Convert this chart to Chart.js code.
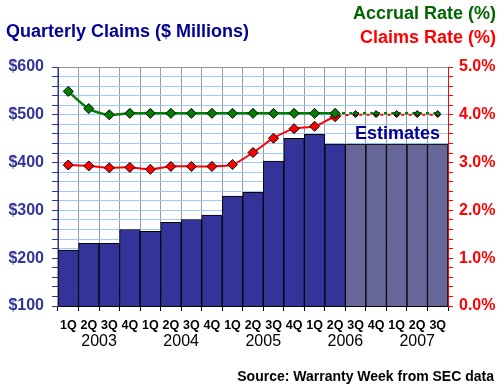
<!DOCTYPE html>
<html><head><meta charset="utf-8">
<script src="https://cdn.jsdelivr.net/npm/chart.js@4.4.0/dist/chart.umd.min.js"></script>
<style>
html,body{margin:0;padding:0;background:#fff;}
#wrap{position:relative;width:500px;height:388px;font-family:'Liberation Sans',Arial,sans-serif;}
canvas{position:absolute;left:0;top:0;}
.t{position:absolute;font-weight:bold;white-space:nowrap;line-height:1;}
</style></head><body>
<div id="wrap">
<canvas id="c" width="500" height="388"></canvas>
<div class="t" style="left:6px;top:22px;font-size:18px;color:#000099">Quarterly Claims ($ Millions)</div>
<div class="t" style="right:4px;top:4px;font-size:18px;color:#006600">Accrual Rate (%)</div>
<div class="t" style="right:4px;top:28px;font-size:18px;color:#ff0000">Claims Rate (%)</div>
<div class="t" style="left:355px;top:124px;font-size:18px;color:#000099">Estimates</div>
<div class="t" style="right:6px;top:369px;font-size:14px;color:#000">Source: Warranty Week from SEC data</div>
</div>
<script>
const quarters = ['1Q','2Q','3Q','4Q','1Q','2Q','3Q','4Q','1Q','2Q','3Q','4Q','1Q','2Q','3Q','4Q','1Q','2Q','3Q'];
const years = ['2003','2004','2005','2006','2007'];
const yearCenters = [1.5, 5.5, 9.5, 13.5, 17];
const claims = [217,231,231,260,256,275,281,290,330,338,403,451,459,439,439,439,439,439,439];
const accrualRate = [4.49,4.13,4.00,4.03,4.03,4.03,4.03,4.03,4.03,4.03,4.03,4.03,4.03,4.03,4.03,4.03,4.03,4.03,4.03];
const claimsRate = [2.95,2.93,2.89,2.90,2.86,2.92,2.92,2.92,2.96,3.21,3.51,3.71,3.76,3.96,4.00,4.00,4.00,4.00,4.00];
const firstEstimate = 14;

const FONT = "'Liberation Sans', Arial, sans-serif";
const barColors = claims.map((v,i)=> i >= firstEstimate ? '#666699' : '#333399');
const dashSeg = (off) => ({
  borderDash: ctx => ctx.p1DataIndex >= firstEstimate ? [3,4] : undefined,
  borderDashOffset: ctx => ctx.p1DataIndex >= firstEstimate ? off : 0
});
const ptRadius = ctx => ctx.dataIndex >= firstEstimate ? 2.8 : 5;

new Chart(document.getElementById('c'), {
  data: {
    labels: quarters,
    datasets: [
      { type:'line', label:'Accrual Rate (%)', data: accrualRate, yAxisID:'y2', order:1,
        borderColor:'#008000', backgroundColor:'#008000', borderWidth:2.5, tension:0.3,
        pointStyle:'rectRot', pointRadius: ptRadius, pointBorderColor:'#000', pointBorderWidth:1,
        pointBackgroundColor:'#008000', segment: dashSeg(0) },
      { type:'line', label:'Claims Rate (%)', data: claimsRate, yAxisID:'y2', order:2,
        borderColor:'#ff0000', backgroundColor:'#ff0000', borderWidth:2, tension:0.3,
        pointStyle:'rectRot', pointRadius: ptRadius, pointBorderColor:'#000', pointBorderWidth:1,
        pointBackgroundColor:'#ff0000', segment: dashSeg(3.5) },
      { type:'bar', label:'Quarterly Claims', data: claims, yAxisID:'y', order:3,
        backgroundColor: barColors, borderColor:'#000', borderWidth:1,
        barPercentage:1, categoryPercentage:1 }
    ]
  },
  options: {
    responsive:false, animation:false,
    layout:{ padding:{ top:67, bottom:30, left:0, right:0 } },
    plugins:{ legend:{display:false}, tooltip:{enabled:false}, title:{display:false} },
    scales:{
      x:{ type:'category', position:'bottom', offset:true,
        grid:{ offset:true, color:'#999999', tickColor:'#000', tickLength:5, lineWidth:1 },
        border:{ color:'#000', width:1 },
        ticks:{ color:'#000', font:{family:FONT, size:12.5, weight:'bold'}, padding:7, maxRotation:0, autoSkip:false },
        afterFit: s => { s.height = 26; } },
      xYear:{ type:'linear', position:'bottom', min:-0.5, max:18.5,
        grid:{ display:false, drawTicks:false, tickLength:0 }, border:{ display:false },
        afterBuildTicks: s => { s.ticks = yearCenters.map(v => ({value:v})); },
        ticks:{ autoSkip:false, maxRotation:0, color:'#000', font:{family:FONT, size:16}, padding:0,
          callback: v => years[yearCenters.indexOf(v)] },
        afterFit: s => { s.height = 26; } },
      y:{ position:'left', min:100, max:600,
        ticks:{ stepSize:20, autoSkip:false, color:'#333399', font:{family:FONT, size:16, weight:'bold'}, padding:8,
          callback: v => (Math.round(v) % 100 === 0) ? '$' + Math.round(v) : '' },
        grid:{ color: ctx => (ctx.tick && ctx.tick.value === 600) ? '#999999' : '#99ccff', tickColor:'#333399', tickLength:6 },
        border:{ color:'#333399', width:1 },
        afterFit: s => { s.width = 58; } },
      y2:{ position:'right', min:0, max:5,
        ticks:{ stepSize:0.2, autoSkip:false, color:'#ff0000', font:{family:FONT, size:16, weight:'bold'}, padding:6,
          callback: v => Math.abs(v - Math.round(v)) < 1e-6 ? Math.round(v).toFixed(1) + '%' : '' },
        grid:{ drawOnChartArea:false, tickColor:'#ff0000', tickLength:5 },
        border:{ color:'#ff0000', width:1 },
        afterFit: s => { s.width = 52; } }
    }
  }
});
</script>
</body></html>
